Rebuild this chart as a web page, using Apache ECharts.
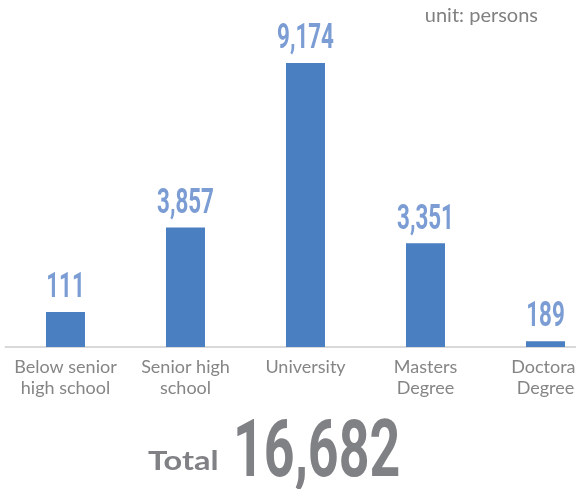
<!DOCTYPE html>
<html><head><meta charset="utf-8">
<script src="https://cdn.jsdelivr.net/npm/echarts@6/dist/echarts.min.js"></script>
<style>html,body{margin:0;padding:0;background:#fff}#c{width:576px;height:489px}</style>
</head><body><div id="c"></div>
<script>
const categories = ['Below senior\nhigh school', 'Senior high\nschool', 'University', 'Masters\nDegree', 'Doctoral\nDegree'];
const values = [111, 3857, 9174, 3351, 189];
// bar heights as drawn in the reference picture (first bar is drawn taller than its label)
const barHeights = [1130, 3857, 9174, 3351, 189];
const unitText = 'unit: persons';
const totalLabel = 'Total';
const total = values.reduce((a, b) => a + b, 0);

const chart = echarts.init(document.getElementById('c'));
chart.setOption({
  animation: false,
  grid: { left: 5.5, width: 600, top: 37.4, bottom: 142, containLabel: false, outerBoundsMode: 'none' },
  xAxis: {
    type: 'category', data: categories,
    axisLine: { show: true, lineStyle: { color: '#d9d9d9', width: 2 } },
    axisTick: { show: false },
    axisLabel: { interval: 0, margin: 10, color: '#858585', fontFamily: 'Lato', fontSize: 18, lineHeight: 21 }
  },
  yAxis: { type: 'value', min: 0, max: 10000, show: false, splitLine: { show: false } },
  series: [{
    type: 'bar', barWidth: 39,
    data: barHeights,
    itemStyle: { color: '#4a80c2' }
  }, {
    type: 'custom',
    data: barHeights.map((h, i) => [i, h, values[i]]),
    encode: { x: 0, y: 1 },
    z: 5,
    renderItem: (params, api) => {
      const pt = api.coord([api.value(0), api.value(1)]);
      return {
        type: 'text', x: pt[0], y: pt[1] - 6, scaleX: 0.64, scaleY: 1,
        style: {
          text: api.value(2).toLocaleString('en-US'), x: 0, y: 0,
          align: 'center', verticalAlign: 'bottom',
          fill: '#7b9dd4', font: 'bold 35px Roboto'
        }
      };
    }
  }],
  graphic: [
    { type: 'text', right: 38, top: 6, style: { text: unitText, fill: '#808080', font: '20px Lato' } },
    { type: 'text', x: 148, y: 449, scaleX: 1.25, style: { text: totalLabel, fill: '#808185', font: 'bold 26px Lato' } },
    { type: 'text', x: 233, y: 417, scaleX: 0.68, style: { text: total.toLocaleString('en-US'), fill: '#808185', font: 'bold 79px Roboto' } }
  ]
});
</script></body></html>
